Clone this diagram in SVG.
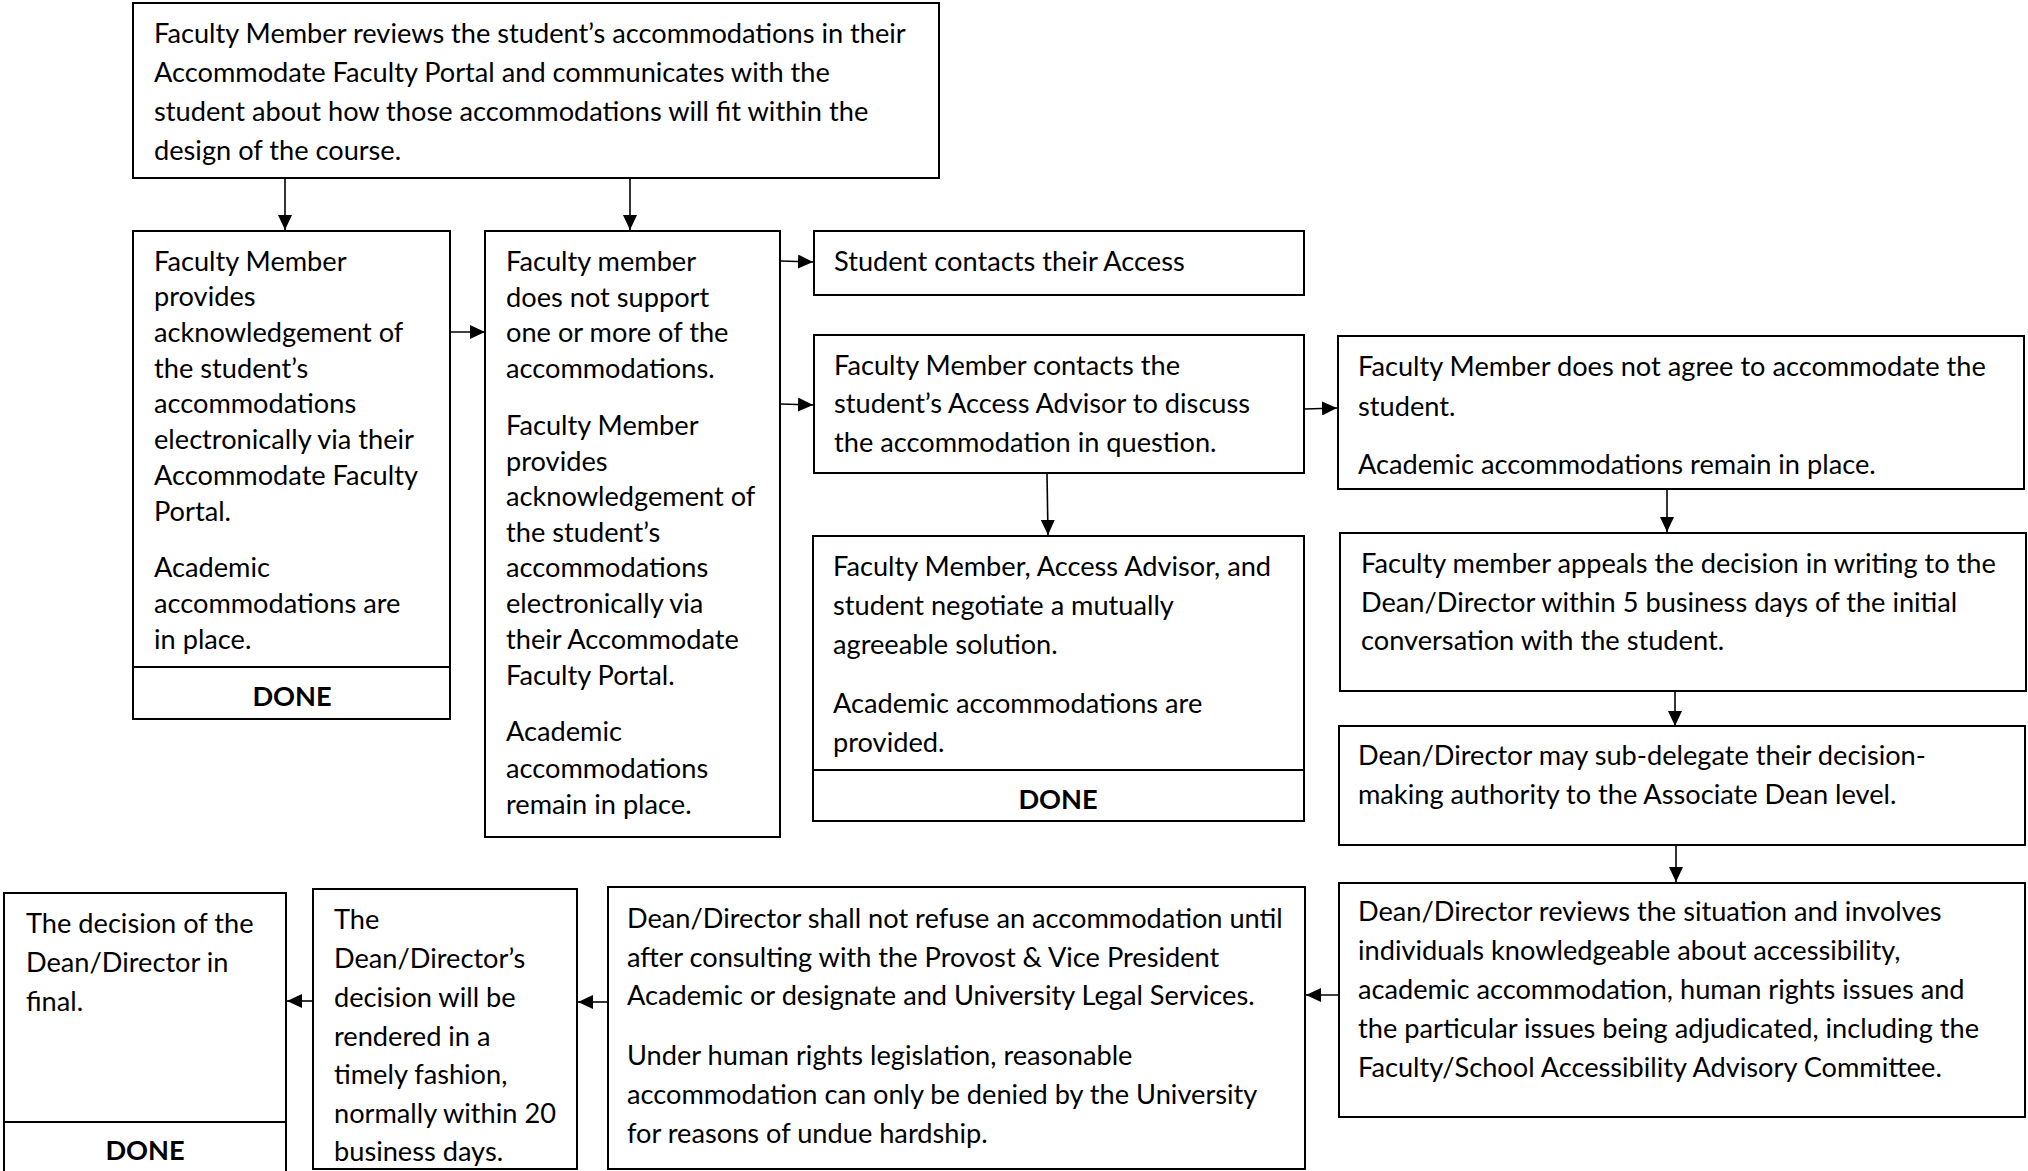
<svg xmlns="http://www.w3.org/2000/svg" width="2028" height="1171" viewBox="0 0 2028 1171">
<style>
.box{fill:#fff;stroke:#000;stroke-width:2}
.t{font-family:Lato,"Liberation Sans",sans-serif;font-size:27.2px;fill:#000}
.b{font-family:Lato,"Liberation Sans",sans-serif;font-size:27.2px;font-weight:bold;fill:#000;text-anchor:middle}
.c{fill:none;stroke:#000;stroke-width:1.6}
</style>
<defs>
<marker id="ah" viewBox="0 0 15 14" refX="15" refY="7" markerWidth="15" markerHeight="14" markerUnits="userSpaceOnUse" orient="auto">
<path d="M0,0 L15,7 L0,14 Z" fill="#000"/>
</marker>
</defs>
<rect width="2028" height="1171" fill="#fff"/>

<g id="connectors">
<line class="c" x1="285" y1="179" x2="285" y2="230" marker-end="url(#ah)"/>
<line class="c" x1="630" y1="179" x2="630" y2="230" marker-end="url(#ah)"/>
<line class="c" x1="451" y1="332" x2="485" y2="332" marker-end="url(#ah)"/>
<line class="c" x1="781" y1="261" x2="813" y2="262" marker-end="url(#ah)"/>
<line class="c" x1="781" y1="404" x2="813" y2="405" marker-end="url(#ah)"/>
<line class="c" x1="1047" y1="474" x2="1048" y2="535" marker-end="url(#ah)"/>
<line class="c" x1="1305" y1="409" x2="1337" y2="408" marker-end="url(#ah)"/>
<line class="c" x1="1667" y1="490" x2="1667" y2="532" marker-end="url(#ah)"/>
<line class="c" x1="1675" y1="692" x2="1675" y2="726" marker-end="url(#ah)"/>
<line class="c" x1="1676" y1="846" x2="1676" y2="882" marker-end="url(#ah)"/>
<line class="c" x1="1339" y1="995" x2="1306" y2="995" marker-end="url(#ah)"/>
<line class="c" x1="608" y1="1002" x2="578" y2="1002" marker-end="url(#ah)"/>
<line class="c" x1="313" y1="1001" x2="287" y2="1001" marker-end="url(#ah)"/>
</g>

<g id="n1">
<rect class="box" x="133" y="3" width="806" height="175"/>
<text class="t"><tspan x="154" y="43">Faculty Member reviews the student’s accommodations in their</tspan><tspan x="154" y="82">Accommodate Faculty Portal and communicates with the</tspan><tspan x="154" y="121">student about how those accommodations will fit within the</tspan><tspan x="154" y="160">design of the course.</tspan></text>
</g>

<g id="n2">
<rect class="box" x="133" y="231" width="317" height="488"/>
<line class="box" x1="133" y1="667" x2="450" y2="667"/>
<text class="t"><tspan x="154" y="271">Faculty Member</tspan><tspan x="154" y="306">provides</tspan><tspan x="154" y="342">acknowledgement of</tspan><tspan x="154" y="378">the student’s</tspan><tspan x="154" y="413">accommodations</tspan><tspan x="154" y="449">electronically via their</tspan><tspan x="154" y="485">Accommodate Faculty</tspan><tspan x="154" y="521">Portal.</tspan><tspan x="154" y="577">Academic</tspan><tspan x="154" y="613">accommodations are</tspan><tspan x="154" y="649">in place.</tspan></text>
<text class="b" x="292" y="706">DONE</text>
</g>

<g id="n3">
<rect class="box" x="485" y="231" width="295" height="606"/>
<text class="t"><tspan x="506" y="271">Faculty member</tspan><tspan x="506" y="307">does not support</tspan><tspan x="506" y="342">one or more of the</tspan><tspan x="506" y="378">accommodations.</tspan><tspan x="506" y="435">Faculty Member</tspan><tspan x="506" y="471">provides</tspan><tspan x="506" y="506">acknowledgement of</tspan><tspan x="506" y="542">the student’s</tspan><tspan x="506" y="577">accommodations</tspan><tspan x="506" y="613">electronically via</tspan><tspan x="506" y="649">their Accommodate</tspan><tspan x="506" y="685">Faculty Portal.</tspan><tspan x="506" y="741">Academic</tspan><tspan x="506" y="778">accommodations</tspan><tspan x="506" y="814">remain in place.</tspan></text>
</g>

<g id="n4">
<rect class="box" x="814" y="231" width="490" height="64"/>
<text class="t" x="834" y="271">Student contacts their Access</text>
</g>

<g id="n5">
<rect class="box" x="814" y="335" width="490" height="138"/>
<text class="t"><tspan x="834" y="375">Faculty Member contacts the</tspan><tspan x="834" y="413">student’s Access Advisor to discuss</tspan><tspan x="834" y="452">the accommodation in question.</tspan></text>
</g>

<g id="n6">
<rect class="box" x="813" y="536" width="491" height="285"/>
<line class="box" x1="813" y1="770" x2="1304" y2="770"/>
<text class="t"><tspan x="833" y="576">Faculty Member, Access Advisor, and</tspan><tspan x="833" y="615">student negotiate a mutually</tspan><tspan x="833" y="654">agreeable solution.</tspan><tspan x="833" y="713">Academic accommodations are</tspan><tspan x="833" y="752">provided.</tspan></text>
<text class="b" x="1058" y="809">DONE</text>
</g>

<g id="n7">
<rect class="box" x="1338" y="336" width="686" height="153"/>
<text class="t"><tspan x="1358" y="376">Faculty Member does not agree to accommodate the</tspan><tspan x="1358" y="416">student.</tspan><tspan x="1358" y="474">Academic accommodations remain in place.</tspan></text>
</g>

<g id="n8">
<rect class="box" x="1340" y="533" width="686" height="158"/>
<text class="t"><tspan x="1361" y="573">Faculty member appeals the decision in writing to the</tspan><tspan x="1361" y="612">Dean/Director within 5 business days of the initial</tspan><tspan x="1361" y="650">conversation with the student.</tspan></text>
</g>

<g id="n9">
<rect class="box" x="1339" y="726" width="686" height="119"/>
<text class="t"><tspan x="1358" y="765">Dean/Director may sub-delegate their decision-</tspan><tspan x="1358" y="804">making authority to the Associate Dean level.</tspan></text>
</g>

<g id="n10">
<rect class="box" x="1339" y="883" width="686" height="234"/>
<text class="t"><tspan x="1358" y="921">Dean/Director reviews the situation and involves</tspan><tspan x="1358" y="960">individuals knowledgeable about accessibility,</tspan><tspan x="1358" y="999">academic accommodation, human rights issues and</tspan><tspan x="1358" y="1038">the particular issues being adjudicated, including the</tspan><tspan x="1358" y="1077">Faculty/School Accessibility Advisory Committee.</tspan></text>
</g>

<g id="n11">
<rect class="box" x="608" y="887" width="697" height="282"/>
<text class="t"><tspan x="627" y="928">Dean/Director shall not refuse an accommodation until</tspan><tspan x="627" y="967">after consulting with the Provost &amp; Vice President</tspan><tspan x="627" y="1005">Academic or designate and University Legal Services.</tspan><tspan x="627" y="1065">Under human rights legislation, reasonable</tspan><tspan x="627" y="1104">accommodation can only be denied by the University</tspan><tspan x="627" y="1143">for reasons of undue hardship.</tspan></text>
</g>

<g id="n12">
<rect class="box" x="313" y="889" width="264" height="280"/>
<text class="t"><tspan x="334" y="929">The</tspan><tspan x="334" y="968">Dean/Director’s</tspan><tspan x="334" y="1007">decision will be</tspan><tspan x="334" y="1046">rendered in a</tspan><tspan x="334" y="1084">timely fashion,</tspan><tspan x="334" y="1123">normally within 20</tspan><tspan x="334" y="1161">business days.</tspan></text>
</g>

<g id="n13">
<path class="box" d="M4,1173 V893 H286 V1173"/>
<line class="box" x1="4" y1="1122" x2="286" y2="1122"/>
<text class="t"><tspan x="26" y="933">The decision of the</tspan><tspan x="26" y="972">Dean/Director in</tspan><tspan x="26" y="1011">final.</tspan></text>
<text class="b" x="145" y="1160">DONE</text>
</g>
</svg>
